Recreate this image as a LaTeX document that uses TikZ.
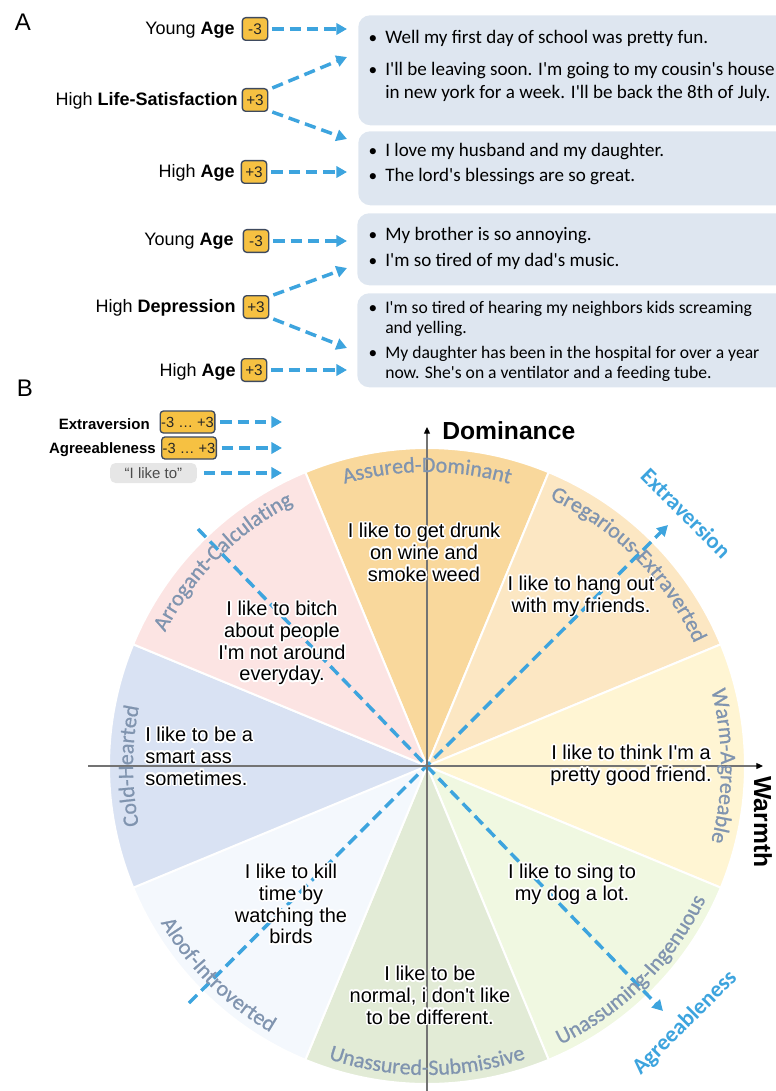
\documentclass[tikz,border=0pt]{standalone}
\usepackage{fontspec}
\setmainfont{Liberation Sans}[Ligatures=TeXOff]
\newfontfamily\calfont{Carlito}[Ligatures=TeXOff]
\newfontfamily\ringfont{Carlito}[Ligatures=TeXOff,FakeBold=0.8]
\usepackage{contour}
\contourlength{1.2pt}
\usetikzlibrary{arrows.meta,decorations.text}

\definecolor{blu}{RGB}{61,164,222}
\definecolor{boxbg}{RGB}{222,230,240}
\definecolor{badgefill}{RGB}{246,193,66}
\definecolor{badgeline}{RGB}{62,74,94}
\definecolor{axisgrey}{RGB}{115,115,115}
\definecolor{lblc}{RGB}{128,148,175}
\definecolor{qgrey}{RGB}{230,230,230}
\definecolor{cAD}{RGB}{249,216,156}
\definecolor{cGE}{RGB}{252,231,195}
\definecolor{cWA}{RGB}{255,245,211}
\definecolor{cUI}{RGB}{240,248,225}
\definecolor{cUS}{RGB}{226,235,214}
\definecolor{cAI}{RGB}{244,248,253}
\definecolor{cCH}{RGB}{217,226,243}
\definecolor{cAC}{RGB}{252,228,227}

\newcommand\glow[1]{\contour{white}{#1}}
\newcommand\rlfmt{\ringfont\fontsize{16.5}{17}\selectfont\color{lblc}}
\newcommand\ringlabel[4]{%
  \path[decorate,decoration={text along path,text align=center,text={|\rlfmt|#4}}]
    (#1:#3) arc[start angle=#1,end angle=#2,radius=#3];}

\tikzset{
  blarrow/.style={draw=blu,line width=2.6pt,dash pattern=on 8.5pt off 4.5pt,
    -{Triangle[length=8pt,width=8.5pt]}},
  axisline/.style={draw=axisgrey,line width=0.9pt,-{Triangle[length=5pt,width=4.5pt,color=black]}},
  badge/.style={draw=badgeline,fill=badgefill,line width=1pt,rounded corners=2.5pt,
    minimum width=19pt,minimum height=17pt,inner sep=0pt,
    font=\fontsize{11.5}{12}\selectfont,text=black!85},
  wbadge/.style={badge,minimum width=41pt,minimum height=16.5pt,font=\fontsize{11}{12}\selectfont},
  albl/.style={font=\fontsize{13.5}{16}\selectfont,inner sep=0pt,anchor=base east},
  leglbl/.style={font=\bfseries\fontsize{11.25}{13}\selectfont,inner sep=0pt,anchor=base east},
  txtbox/.style={fill=boxbg,rounded corners=9pt,anchor=north west,inner sep=0pt},
  btxt/.style={font=\calfont\fontsize{14.3}{16}\selectfont,inner sep=0pt,anchor=base west},
  stxt/.style={font=\calfont\fontsize{13.2}{15}\selectfont,inner sep=0pt,anchor=base west},
  bul/.style={font=\calfont\fontsize{13}{16}\selectfont,inner sep=0pt,anchor=base},
  quote/.style={font=\fontsize{15}{16.3}\selectfont,align=center,inner sep=0pt},
  wedge/.style={draw=white,line width=1.5pt},
  panel/.style={font=\fontsize{18}{18}\selectfont,inner sep=0pt},
  axlbl/.style={font=\bfseries\fontsize{18.5}{19}\selectfont,inner sep=0pt},
  dirlbl/.style={font=\calfont\bfseries\fontsize{17}{17}\selectfont,text=blu,inner sep=0pt},
  quotebox/.style={fill=qgrey,rounded corners=4pt,minimum width=65pt,minimum height=15pt,
    inner sep=0pt,font=\fontsize{11.25}{12}\selectfont,text=black!70},
}

\begin{document}
\begin{tikzpicture}[x=0.75pt,y=-0.75pt]
\useasboundingbox (0,0) rectangle (775,1091);

% ---------------- Panel A ----------------
\node[panel] (pA) at (23,22) {A};

\node[txtbox,minimum width=324pt,minimum height=82.5pt] (box1) at (358,15) {};
\node[txtbox,minimum width=324pt,minimum height=55.5pt] (box2) at (358,131) {};
\node[txtbox,minimum width=324.75pt,minimum height=54pt] (box3) at (357,213) {};
\node[txtbox,minimum width=324.75pt,minimum height=70.5pt] (box4) at (357,293) {};

\node[bul] (u1) at (373,44) {•};
\node[btxt] (t1) at (385,44) {Well my first day of school was pretty fun.};
\node[bul] (u2) at (373,76) {•};
\node[btxt] (t2) at (385,76) {I'll be leaving soon. I'm going to my cousin's house};
\node[btxt] (t3) at (385,99) {in new york for a week. I'll be back the 8th of July.};
\node[bul] (u3) at (373,157) {•};
\node[btxt] (t4) at (385,157) {I love my husband and my daughter.};
\node[bul] (u4) at (373,182) {•};
\node[btxt] (t5) at (385,182) {The lord's blessings are so great.};
\node[bul] (u5) at (373,240) {•};
\node[btxt] (t6) at (385,240) {My brother is so annoying.};
\node[bul] (u6) at (373,267) {•};
\node[btxt] (t7) at (385,267) {I'm so tired of my dad's music.};
\node[bul] (u7) at (373,313) {•};
\node[stxt] (t8) at (385,313) {I'm so tired of hearing my neighbors kids screaming};
\node[stxt] (t9) at (385,333) {and yelling.};
\node[bul] (u8) at (373,358) {•};
\node[stxt] (t10) at (385,358) {My daughter has been in the hospital for over a year};
\node[stxt] (t11) at (385,378) {now. She's on a ventilator and a feeding tube.};

\node[albl] (l1) at (235,35) {Young \textbf{Age}};
\node[badge] (g1) at (255,29) {-3};
\node[albl] (l2) at (238,106) {High \textbf{Life-Satisfaction}};
\node[badge] (g2) at (255,100) {+3};
\node[albl] (l3) at (235,178) {High \textbf{Age}};
\node[badge] (g3) at (254,172) {+3};
\node[albl] (l4) at (234,246) {Young \textbf{Age}};
\node[badge] (g4) at (256,241) {-3};
\node[albl] (l5) at (236,312) {High \textbf{Depression}};
\node[badge] (g5) at (256,307) {+3};
\node[albl] (l6) at (236,376) {High \textbf{Age}};
\node[badge] (g6) at (254,370) {+3};

\coordinate (e1) at (347,29);
\coordinate (e2) at (347,57);
\coordinate (e3) at (347,139);
\coordinate (e4) at (347,172);
\coordinate (e5) at (347,241);
\coordinate (e6) at (347,268);
\coordinate (e7) at (347,348);
\coordinate (e8) at (347,370);

\draw[blarrow] ([xshift=3pt]g1.east) -- (e1);
\draw[blarrow] ([xshift=3pt]g2.north east) -- (e2);
\draw[blarrow] ([xshift=3pt]g2.south east) -- (e3);
\draw[blarrow] ([xshift=3pt]g3.east) -- (e4);
\draw[blarrow] ([xshift=3pt]g4.east) -- (e5);
\draw[blarrow] ([xshift=3pt]g5.north east) -- (e6);
\draw[blarrow] ([xshift=3pt]g5.south east) -- (e7);
\draw[blarrow] ([xshift=3pt]g6.east) -- (e8);

% ---------------- Panel B ----------------
\node[panel] (pB) at (25,388) {B};

\node[leglbl] (lx) at (150,429.5) {Extraversion};
\node[wbadge] (bx1) at (187.5,422) {-3 … +3};
\node[leglbl] (la) at (156,453.5) {Agreeableness};
\node[wbadge] (bx2) at (189,448) {-3 … +3};
\node[quotebox] (gq) at (153.5,473) {“I like to”};
\coordinate (f1) at (282,422);
\coordinate (f2) at (282,448);
\coordinate (f3) at (282,473);
\draw[blarrow] ([xshift=3.5pt]bx1.east) -- (f1);
\draw[blarrow] ([xshift=3.5pt]bx2.east) -- (f2);
\draw[blarrow] ([xshift=5pt]gq.east) -- (f3);

% wedges
\begin{scope}[shift={(427,766)}]
\foreach \a/\c in {90/cAD,45/cGE,0/cWA,-45/cUI,-90/cUS,-135/cAI,180/cCH,135/cAC}{
  \pgfmathsetmacro\s{-\a-22.5}
  \pgfmathsetmacro\e{-\a+22.5}
  \fill[\c,wedge] (0,0) -- (\s:318) arc[start angle=\s,end angle=\e,radius=318] -- cycle;
}
\end{scope}

% dashed trait axes
\coordinate (xs) at (189,1003);
\coordinate (xe) at (668,525);
\coordinate (as) at (198,529);
\coordinate (ae) at (663,1011);
\draw[blarrow] (xs) -- (xe);
\draw[blarrow] (as) -- (ae);

% main axes
\coordinate (wL) at (88,766);
\coordinate (wR) at (763,766);
\coordinate (dB) at (427,1095);
\coordinate (dT) at (427,427);
\draw[axisline] (wL) -- (wR);
\draw[axisline] (dB) -- (dT);

% ring labels
\begin{scope}[shift={(427,766)}]
\ringlabel{-120}{-60}{294}{Assured-Dominant}
\ringlabel{-75}{-15}{294}{Gregarious-Extraverted}
\ringlabel{-30}{30}{294}{Warm-Agreeable}
\ringlabel{-210}{-150}{294}{Cold-Hearted}
\ringlabel{-165}{-105}{294}{Arrogant-Calculating}
\ringlabel{75}{15}{309}{Unassuming-Ingenuous}
\ringlabel{120}{60}{309}{Unassured-Submissive}
\ringlabel{-195}{-255}{309}{Aloof-Introverted}
\end{scope}

% quotes
\node[quote] (q1) at (424,553) {\glow{I like to get drunk}\\\glow{on wine and}\\\glow{smoke weed}};
\node[quote] (q2) at (581,597) {\glow{I like to hang out}\\\glow{with my friends.}};
\node[quote] (q3) at (282,644) {\glow{I like to bitch}\\\glow{about people}\\\glow{I'm not around}\\\glow{everyday.}};
\node[quote,align=left,anchor=west] (q4) at (145,757) {\glow{I like to be a}\\\glow{smart ass}\\\glow{sometimes.}};
\node[quote] (q5) at (631,766) {\glow{I like to think I'm a}\\\glow{pretty good friend.}};
\node[quote] (q6) at (572,885) {\glow{I like to sing to}\\\glow{my dog a lot.}};
\node[quote] (q7) at (430,996) {\glow{I like to be}\\\glow{normal, i don't like}\\\glow{to be different.}};
\node[quote] (q8) at (291,905) {\glow{I like to kill}\\\glow{time by}\\\glow{watching the}\\\glow{birds}};

\node[axlbl,anchor=base west] (dom) at (442,439) {Dominance};
\node[axlbl,rotate=-90] (wrm) at (763,822) {Warmth};

\node[dirlbl,rotate=-45] (ext) at (686,513) {Extraversion};
\node[dirlbl,rotate=45] (agr) at (685,1023) {Agreeableness};

\end{tikzpicture}
\end{document}
